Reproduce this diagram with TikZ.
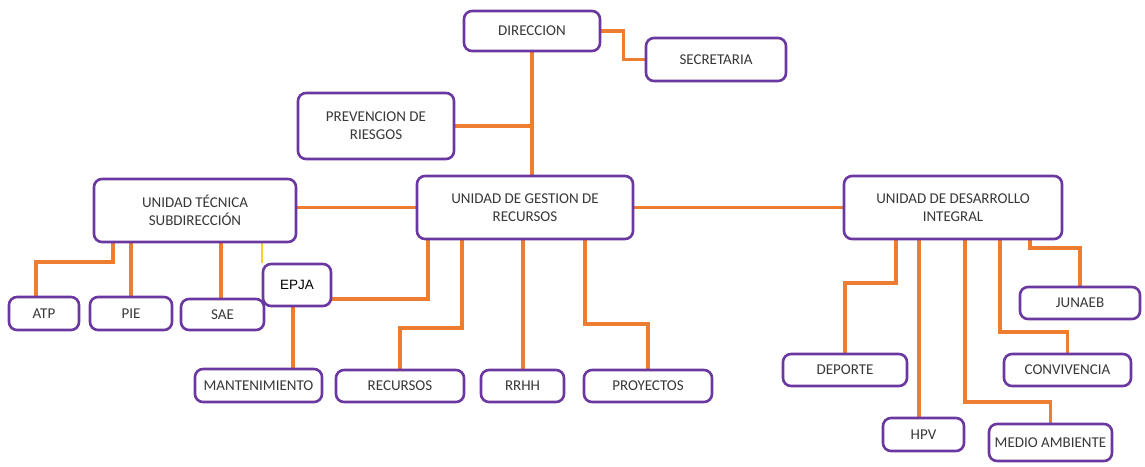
\documentclass[tikz,border=0pt]{standalone}
\usepackage{fontspec}
\usetikzlibrary{backgrounds}
\setmainfont{Carlito}
\newfontfamily\arialfont{Liberation Sans}
\definecolor{boxpurple}{RGB}{106,56,160}
\definecolor{linkorange}{RGB}{237,125,49}
\definecolor{txtgray}{RGB}{56,56,56}
\definecolor{markyellow}{RGB}{240,210,40}
\begin{document}
\begin{tikzpicture}[x=1pt,y=-1pt,
  orgbox/.style={draw=boxpurple, line width=2.6pt, rounded corners=8pt, fill=white,
     align=center, text=txtgray, font=\fontsize{15}{18}\selectfont, inner sep=2pt},
  link/.style={draw=linkorange, line width=3.2pt}]
\useasboundingbox (0,0) rectangle (1145,466);
\node[orgbox, minimum width=136, minimum height=40] (dir) at (532,31) {DIRECCION};
\node[orgbox, minimum width=140, minimum height=43] (sec) at (716,59.5) {SECRETARIA};
\node[orgbox, minimum width=156, minimum height=66] (prev) at (376,126) {PREVENCION DE\\RIESGOS};
\node[orgbox, minimum width=216, minimum height=63] (ugr) at (525,207.5) {UNIDAD DE GESTION DE\\RECURSOS};
\node[orgbox, minimum width=202, minimum height=63] (ut) at (195,210.5) {UNIDAD TÉCNICA\\SUBDIRECCIÓN};
\node[orgbox, minimum width=218, minimum height=63] (udi) at (953,207.5) {UNIDAD DE DESARROLLO\\INTEGRAL};
\node[orgbox, minimum width=70, minimum height=33] (atp) at (44,313.5) {ATP};
\node[orgbox, minimum width=82, minimum height=33] (pie) at (131,313.5) {PIE};
\node[orgbox, minimum width=83, minimum height=31] (sae) at (222.5,314.5) {SAE};
\node[orgbox, minimum width=68, minimum height=42, text=black, font=\arialfont\fontsize{13.5}{16}\selectfont] (epja) at (297,285) {EPJA};
\node[orgbox, minimum width=127, minimum height=33] (mant) at (258.5,385.5) {MANTENIMIENTO};
\node[orgbox, minimum width=128, minimum height=32] (rec) at (400,386) {RECURSOS};
\node[orgbox, minimum width=83, minimum height=32] (rrhh) at (522.5,386) {RRHH};
\node[orgbox, minimum width=128, minimum height=32] (proy) at (648,386) {PROYECTOS};
\node[orgbox, minimum width=124, minimum height=32] (dep) at (845,370) {DEPORTE};
\node[orgbox, minimum width=81, minimum height=33] (hpv) at (923.5,434.5) {HPV};
\node[orgbox, minimum width=123, minimum height=37] (ma) at (1050.5,442.5) {MEDIO AMBIENTE};
\node[orgbox, minimum width=127, minimum height=32] (conv) at (1067.5,370) {CONVIVENCIA};
\node[orgbox, minimum width=120, minimum height=32] (jun) at (1080,303) {JUNAEB};
\begin{pgfonlayer}{background}
\draw[link] (dir.east) -- ++(22,0) |- (sec.west);
\draw[link] (dir.south) -- (dir.south |- ugr.north);
\draw[link] (prev.east) -- (prev.east -| dir.south);
\draw[link] (ugr.west) -- (ugr.west -| ut.east);
\draw[link] (ugr.east) -- (udi.west);
\coordinate (atpbend) at (36,262);
\draw[link] (ut.south -| 113,0) |- (atpbend) -- (atp.north -| atpbend);
\draw[link] (pie.north) -- (pie.north |- ut.south);
\draw[link] (sae.north -| 221,0) -- (ut.south -| 221,0);
\draw[draw=markyellow, line width=2pt] (ut.south -| 262,0) -- (epja.north -| 262,0);
\draw[link] (epja.east |- 0,299) -| (ugr.south -| 428,0);
\draw[link] (epja.south -| 293,0) -- (mant.north -| 293,0);
\draw[link] (ugr.south -| 462,0) |- (rec.north |- 0,328) -- (rec.north);
\draw[link] (rrhh.north -| 523,0) -- (ugr.south -| 523,0);
\draw[link] (ugr.south -| 585,0) |- (proy.north |- 0,324) -- (proy.north);
\draw[link] (udi.south -| 896,0) |- (dep.north |- 0,283) -- (dep.north);
\draw[link] (udi.south -| 919,0) -- (hpv.north -| 919,0);
\draw[link] (udi.south -| 965,0) |- (ma.north |- 0,402) -- (ma.north);
\draw[link] (udi.south -| 1000,0) |- (conv.north |- 0,332) -- (conv.north);
\draw[link] (udi.south -| 1030,0) |- (jun.north |- 0,248) -- (jun.north);
\end{pgfonlayer}
\end{tikzpicture}
\end{document}
